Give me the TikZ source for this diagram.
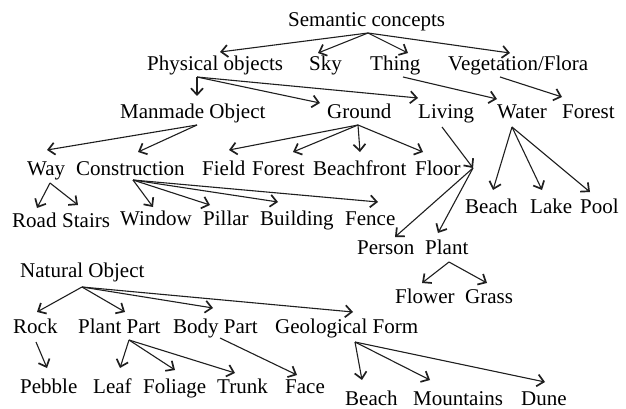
\documentclass[tikz,border=0pt]{standalone}
\usepackage{fontspec}
\setmainfont{Liberation Serif}
\usetikzlibrary{arrows.meta}
\tikzset{
  lbl/.style={anchor=base west, inner sep=0pt, font=\fontsize{21}{25}\selectfont, text=black},
  arr/.style={draw=black!88, line width=1.1pt, -{Straight Barb[length=6.5pt,width=12pt,line width=1.7pt]}},
}
\begin{document}
\begin{tikzpicture}[x=1pt,y=-1pt]
\fill[white] (0,0) rectangle (626,409);
\useasboundingbox (0,0) rectangle (626,409);
% nodes
\node[lbl] (sc) at (288,27) {Semantic concepts};
\node[lbl] (po) at (147,71) {Physical objects};
\node[lbl] (sky) at (309,71) {Sky};
\node[lbl] (thing) at (370,71) {Thing};
\node[lbl] (veg) at (448,71) {Vegetation/Flora};
\node[lbl] (mo) at (120,119) {Manmade Object};
\node[lbl] (gr) at (327,118) {Ground};
\node[lbl] (liv) at (418,118) {Living};
\node[lbl] (wat) at (497,118) {Water};
\node[lbl] (fora) at (562,118) {Forest};
\node[lbl] (way) at (27,175) {Way};
\node[lbl] (con) at (76,175) {Construction};
\node[lbl] (field) at (202,175) {Field};
\node[lbl] (forb) at (252,175) {Forest};
\node[lbl] (bfr) at (313,175) {Beachfront};
\node[lbl] (floor) at (415,175) {Floor};
\node[lbl] (road) at (12,227) {Road};
\node[lbl] (stairs) at (62,227) {Stairs};
\node[lbl] (window) at (120,225) {Window};
\node[lbl] (pillar) at (203,225) {Pillar};
\node[lbl] (building) at (260,225) {Building};
\node[lbl] (fence) at (345,225) {Fence};
\node[lbl] (beacha) at (465,213) {Beach};
\node[lbl] (lake) at (530,213) {Lake};
\node[lbl] (pool) at (580,213) {Pool};
\node[lbl] (person) at (357,254) {Person};
\node[lbl] (plant) at (425,254) {Plant};
\node[lbl] (flower) at (395,303) {Flower};
\node[lbl] (grass) at (465,303) {Grass};
\node[lbl] (nat) at (20,277) {Natural Object};
\node[lbl] (rock) at (13,333) {Rock};
\node[lbl] (pp) at (78,333) {Plant Part};
\node[lbl] (bp) at (173,333) {Body Part};
\node[lbl] (geo) at (275,333) {Geological Form};
\node[lbl] (pebble) at (20,393) {Pebble};
\node[lbl] (leaf) at (93,393) {Leaf};
\node[lbl] (foliage) at (143,393) {Foliage};
\node[lbl] (trunk) at (217,393) {Trunk};
\node[lbl] (face) at (285,393) {Face};
\node[lbl] (beachb) at (345,405) {Beach};
\node[lbl] (mount) at (413,405) {Mountains};
\node[lbl] (dune) at (521,405) {Dune};
% connector ends
\coordinate (sc-o) at (368,33);
\coordinate (po-o) at (197,77);
\coordinate (thing-o) at (403,77);
\coordinate (veg-o) at (500,77);
\coordinate (mo-o) at (197,125);
\coordinate (gr-o) at (358,125);
\coordinate (liv-o) at (442,127);
\coordinate (junc) at (473,168);
\coordinate (wat-o) at (512,127);
\coordinate (way-o) at (50,183);
\coordinate (con-o) at (133,180);
\coordinate (plant-o) at (449,262);
\coordinate (nat-o) at (82,287);
\coordinate (rock-o) at (36,342);
\coordinate (pp-o) at (129,340);
\coordinate (bp-o) at (220,338);
\coordinate (geo-o) at (355,342);
\coordinate (po-i) at (220,52);
\coordinate (sky-i) at (318,53);
\coordinate (thing-i) at (408,53);
\coordinate (veg-i) at (510,53);
\coordinate (mo-i) at (197,96);
\coordinate (gr-i) at (320,103);
\coordinate (liv-i) at (418,98);
\coordinate (wat-i) at (497,99);
\coordinate (fora-i) at (562,97);
\coordinate (way-i) at (47,150);
\coordinate (con-i) at (138,152);
\coordinate (field-i) at (229,150);
\coordinate (forb-i) at (293,152);
\coordinate (bfr-i) at (360,152);
\coordinate (floor-i) at (423,152);
\coordinate (person-i) at (395,237);
\coordinate (plant-i) at (438,233);
\coordinate (beacha-i) at (493,190);
\coordinate (lake-i) at (542,190);
\coordinate (pool-i) at (590,192);
\coordinate (road-i) at (37,208);
\coordinate (stairs-i) at (78,205);
\coordinate (window-i) at (153,207);
\coordinate (pillar-i) at (210,205);
\coordinate (building-i) at (278,202);
\coordinate (fence-i) at (378,202);
\coordinate (flower-i) at (422,283);
\coordinate (grass-i) at (487,283);
\coordinate (rock-i) at (37,312);
\coordinate (pp-i) at (125,312);
\coordinate (bp-i) at (213,308);
\coordinate (geo-i) at (353,312);
\coordinate (pebble-i) at (47,368);
\coordinate (leaf-i) at (120,368);
\coordinate (foliage-i) at (175,370);
\coordinate (trunk-i) at (235,373);
\coordinate (face-i) at (297,375);
\coordinate (beachb-i) at (362,380);
\coordinate (mount-i) at (430,380);
\coordinate (dune-i) at (545,382);
% connectors
\foreach \c in {po,sky,thing,veg} \draw[arr] (sc-o) -- (\c-i);
\foreach \c in {mo,gr,liv} \draw[arr] (po-o) -- (\c-i);
\draw[arr] (thing-o) -- (wat-i);
\draw[arr] (veg-o) -- (fora-i);
\foreach \c in {way,con} \draw[arr] (mo-o) -- (\c-i);
\foreach \c in {field,forb,bfr,floor} \draw[arr] (gr-o) -- (\c-i);
\draw[arr] (liv-o) -- (junc);
\foreach \c in {person,plant} \draw[arr] (junc) -- (\c-i);
\foreach \c in {beacha,lake,pool} \draw[arr] (wat-o) -- (\c-i);
\foreach \c in {road,stairs} \draw[arr] (way-o) -- (\c-i);
\foreach \c in {window,pillar,building,fence} \draw[arr] (con-o) -- (\c-i);
\foreach \c in {flower,grass} \draw[arr] (plant-o) -- (\c-i);
\foreach \c in {rock,pp,bp,geo} \draw[arr] (nat-o) -- (\c-i);
\draw[arr] (rock-o) -- (pebble-i);
\foreach \c in {leaf,foliage,trunk} \draw[arr] (pp-o) -- (\c-i);
\draw[arr] (bp-o) -- (face-i);
\foreach \c in {beachb,mount,dune} \draw[arr] (geo-o) -- (\c-i);
\end{tikzpicture}
\end{document}
